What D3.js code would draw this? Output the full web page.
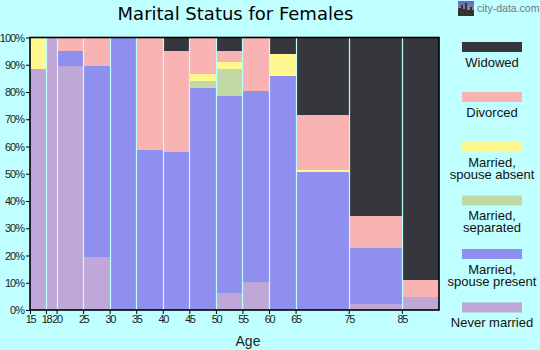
<!DOCTYPE html>
<html><head><meta charset="utf-8">
<script src="https://cdn.jsdelivr.net/npm/d3@7"></script>
<style>html,body{margin:0;padding:0;background:#c0ffff;}svg{display:block;}</style>
</head><body>
<script>
const binEdges = [15,18,20,25,30,35,40,45,50,55,60,65,75,85,92];
const xTickLabels = ["15","18","20","25","30","35","40","45","50","55","60","65","75","85"];
const yTickValues = [0,10,20,30,40,50,60,70,80,90,100];
const seriesNames = ["Never married","Married,\nspouse present","Married,\nseparated","Married,\nspouse absent","Divorced","Widowed"];
const neverMarried  = [88.4,100,89.6,19.4,0,0,0,0,6.2,10.3,0,0,2.2,4.8];
const spousePresent = [0,0,5.4,70.1,100,58.7,57.9,81.4,72.3,70.0,85.8,50.7,20.7,0];
const separated     = [0,0,0,0,0,0,0,2.6,9.9,0,0,0,0,0];
const spouseAbsent  = [11.6,0,0,0,0,0,0,2.5,2.5,0,8.1,0.6,0,0];
const divorced      = [0,0,5.0,10.5,0,41.3,37.1,13.5,4.1,19.7,0,20.2,11.6,6.2];
const widowed       = [0,0,0,0,0,0,5.0,0,5.0,0,6.1,28.5,65.5,89.0];
const colors = ["#bfa8d8","#8f8ff0","#c3d9a5","#fff88f","#f8b3b2","#36373c"];

const W=540,H=350,bg="#c0ffff";
const svg=d3.select("body").append("svg").attr("width",W).attr("height",H);
svg.append("rect").attr("width",W).attr("height",H).attr("fill",bg);

const x=d3.scaleLinear().domain([15,92]).range([30,439]);
const y=d3.scaleLinear().domain([0,100]).range([310,37.5]);

const allSeries=[neverMarried,spousePresent,separated,spouseAbsent,divorced,widowed];
const rows=d3.range(neverMarried.length).map(i=>{const r={i};allSeries.forEach((s,k)=>r["s"+k]=s[i]);return r;});
const stack=d3.stack().keys(d3.range(6).map(k=>"s"+k))(rows);

const g=svg.append("g");
stack.forEach((layer,k)=>{
  g.selectAll(null).data(layer).join("rect")
   .attr("x",d=>x(binEdges[d.data.i]))
   .attr("width",d=>x(binEdges[d.data.i+1])-x(binEdges[d.data.i]))
   .attr("y",d=>y(d[1]))
   .attr("height",d=>Math.max(0,y(d[0])-y(d[1])))
   .attr("fill",colors[k]).attr("shape-rendering","crispEdges");
});
// separators
g.selectAll(null).data(binEdges.slice(1,-1)).join("line")
  .attr("x1",d=>Math.round(x(d))+0.5).attr("x2",d=>Math.round(x(d))+0.5)
  .attr("y1",y(100)).attr("y2",y(0)).attr("stroke",bg).attr("stroke-width",1.2);

// frame
svg.append("rect").attr("x",30).attr("y",37.5).attr("width",409).attr("height",272.5)
  .attr("fill","none").attr("stroke","#000").attr("stroke-width",1.6);

// y axis
const ya=svg.append("g").attr("transform","translate(30,0)")
  .call(d3.axisLeft(y).tickValues(yTickValues).tickFormat(d=>d+"%").tickSize(4).tickPadding(2));
ya.select(".domain").remove();
ya.selectAll("line").attr("stroke","#000");
ya.selectAll("text").attr("font-family","Liberation Sans, Arial, sans-serif").attr("font-size",11)
  .attr("letter-spacing","-1px").attr("fill","#222");

// x axis
const xa=svg.append("g").attr("transform","translate(0,310)")
  .call(d3.axisBottom(x).tickValues(binEdges.slice(0,-1)).tickFormat((d,i)=>xTickLabels[i]).tickSize(4).tickPadding(1));
xa.select(".domain").remove();
xa.selectAll("line").attr("stroke","#000");
xa.selectAll("text").attr("font-family","Liberation Sans, Arial, sans-serif").attr("font-size",11)
  .attr("letter-spacing","-1.4px").attr("fill","#222");

svg.append("text").attr("x",248).attr("y",346).attr("text-anchor","middle")
  .attr("font-family","Liberation Sans, Arial, sans-serif").attr("font-size",14).attr("fill","#222").text("Age");

// title
svg.append("text").attr("x",235.5).attr("y",20).attr("text-anchor","middle")
  .attr("font-family","DejaVu Sans, sans-serif").attr("font-size",18).attr("fill","#000").text("Marital Status for Females");

// legend
const legendOrder=[5,4,3,2,1,0];
let ly=42;
legendOrder.forEach(k=>{
  const lines=seriesNames[k].split("\n");
  svg.append("rect").attr("x",462).attr("y",ly).attr("width",60).attr("height",10).attr("fill",colors[k]);
  lines.forEach((t,j)=>{
    svg.append("text").attr("x",492).attr("y",ly+24.5+j*12).attr("text-anchor","middle")
      .attr("font-family","Liberation Sans, Arial, sans-serif").attr("font-size",13).attr("fill","#111").text(t);
  });
  ly+= lines.length>1?53.5:50;
});

// logo
const grad=svg.append("defs").append("linearGradient").attr("id","lg").attr("x1",0).attr("y1",0).attr("x2",0).attr("y2",1);
grad.append("stop").attr("offset","0").attr("stop-color","#5a6ad0");
grad.append("stop").attr("offset","1").attr("stop-color","#c89a50");
svg.append("rect").attr("x",458).attr("y",1).attr("width",16).attr("height",15).attr("fill","url(#lg)");
svg.append("path").attr("d","M458,16 V8 h3 v-3 h2 v4 h2 v-6 h2 v7 h3 v-3 h2 v3 h2 V16 Z").attr("fill","#333");
svg.append("text").attr("x",477).attr("y",12).attr("font-family","Liberation Sans, Arial, sans-serif")
  .attr("font-size",10.5).attr("fill","#777").text("city-data.com");
</script>
</body></html>
